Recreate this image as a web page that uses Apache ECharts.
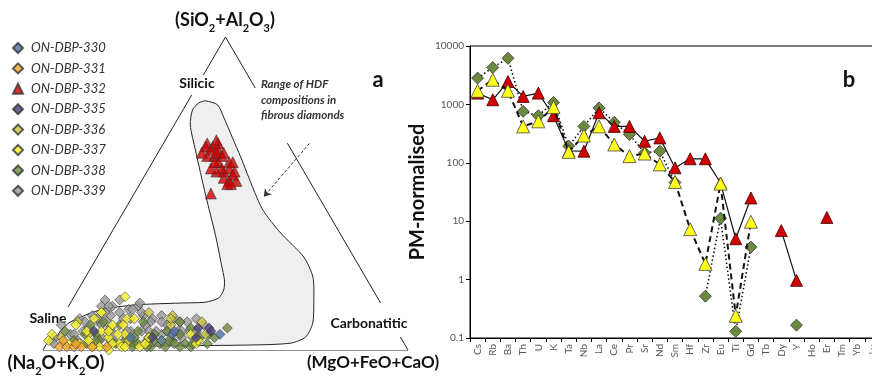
<!DOCTYPE html>
<html><head><meta charset="utf-8">
<script src="https://cdn.jsdelivr.net/npm/echarts@6/dist/echarts.min.js"></script>
<style>html,body{margin:0;padding:0;background:#fff}#c{width:872px;height:381px}</style>
</head><body><div id="c"></div>
<script>
// ---- Panel a: ternary compositions [SiO2+Al2O3, Na2O+K2O, MgO+FeO+CaO] (%) ----
const s330 = [[5,49,46],[5,62,33],[4,74,22],[3,66,31],[6,61,33]];
const s331 = [[1,95,4],[1,93,6],[1,91,8],[1,89,10],[1,86,13],[1,82,17],[3,93,4],[2,90,8]];
const s332 = [[66,22,12],[67,19,14],[66,19,15],[65,21,14],[65,23,12],[64,22,14],[64,20,16],[63,19,18],[62,24,14],[62,22,16],[62,20,18],[60,22,18],[60,19,21],[60,18,22],[60,23,17],[58,22,20],[58,20,22],[57,19,24],[57,22,21],[56,20,24],[55,23,22],[54,22,24],[54,20,26],[53,23,24],[53,22,25],[50,29,21],[63,21,16],[57,24,19],[63,25,12],[58,25,17]];
const s335 = [[7,51,42],[4,56,40],[6,83,11],[4,68,28],[6,51,43],[7,54,39]];
const s336 = [[9,86,5],[12,78,10],[8,61,31],[9,52,39],[7,78,15],[5,53,42],[5,85,10],[12,65,23],[3,75,22],[4,93,3],[11,59,30],[10,60,30]];
const s337 = [[5,95,0],[17,69,14],[8,87,5],[3,86,11],[10,81,9],[1,84,15],[4,80,16],[2,78,20],[5,75,20],[1,73,26],[6,81,13],[10,72,18],[2,71,27],[3,66,31],[2,57,41],[5,57,38],[2,92,6],[8,77,15],[2,89,9],[4,69,27],[12,78,10],[6,85,9],[6,79,15],[5,77,18],[8,74,18],[10,70,20],[3,97,0],[1,86,13],[0,82,18],[2,80,18],[1,78,21],[1,77,22],[3,56,41]];
const s338 = [[3,90,7],[2,87,11],[5,83,12],[3,83,14],[6,79,15],[2,79,19],[4,75,21],[2,74,24],[6,71,23],[3,70,27],[5,67,28],[2,67,31],[6,63,31],[3,63,34],[5,60,35],[2,60,38],[7,56,37],[4,55,41],[2,54,44],[5,52,43],[7,46,47],[8,75,17],[9,79,12],[9,68,23],[9,58,33],[8,83,9],[1,75,24],[1,70,29],[1,59,40],[6,91,3],[4,51,45],[5,86,9],[3,84,13],[3,80,17],[3,76,21],[4,73,23],[3,64,33],[3,68,29],[4,69,27],[2,73,25],[1,71,28],[1,66,33],[1,62,37],[2,63,35],[2,58,40]];
const s339 = [[16,75,9],[14,74,12],[14,77,9],[12,73,15],[13,70,17],[14,67,19],[10,85,5],[11,81,8],[9,80,11],[11,76,13],[10,73,17],[10,71,19],[11,67,22],[10,65,25],[11,62,27],[8,62,30],[10,59,31],[9,56,35],[10,53,37],[8,52,40],[6,57,37],[6,60,34],[6,68,26],[6,73,21],[6,86,8],[3,96,1],[5,90,5],[5,78,17],[4,82,14],[5,65,30],[8,91,1],[16,71,13],[14,75,11],[12,77,11],[13,69,18],[15,66,19],[12,67,21],[10,80,10],[5,89,6],[3,89,8],[9,84,7],[7,84,9],[8,80,12],[9,78,13],[6,74,20],[9,66,25],[9,63,28],[9,58,33],[8,68,24],[6,70,24],[6,66,28],[6,63,31],[6,59,35],[6,55,39],[4,60,36],[4,57,39],[4,95,1],[2,96,2]];
// HDF field outline (ternary %)
const hdfField = [[79.6,15.7,4.7],[78.3,13,8.7],[74.4,13.3,12.3],[67.7,14.2,18.1],[61.7,15,23.3],[51.1,16.7,32.2],[44.7,17.4,37.9],[37.4,16.2,46.4],[29.7,13.7,56.6],[23.3,14.4,62.3],[15,18.3,66.7],[8.6,21.8,69.6],[4.2,25.9,69.9],[2.2,31,66.8],[1.6,42.3,56.1],[1.3,69.9,28.8],[1.3,89.1,9.6],[2.2,93.7,4.1],[4.8,93.5,1.7],[8.9,88.1,3],[12.8,77.9,9.3],[14.4,67.5,18.1],[15,54.9,30.1],[15.3,47.8,36.9],[16.6,43.6,39.8],[19.2,40.9,39.9],[22.4,39.1,38.5],[27.2,37.5,35.3],[36.7,34.4,28.9],[49.5,30.7,19.8],[63.9,26.3,9.8],[71.9,23.7,4.4],[76.7,20.7,2.6],[78.9,17.9,3.2]];
// triangle edge segments (gaps where labels sit)
const edges = [
  [[100,0,0],[87.9,12.1,0]], [[81.5,18.5,0],[13.7,86.3,0]], [[5.8,94.2,0],[0,100,0]],
  [[100,0,0],[83.7,0,16.3]], [[66.1,0,33.9],[15,0,85]], [[4.2,0,95.8],[0,0,100]],
  [[0,100,0],[0,0,100]]
];
const arrowFrom = [66,-6,40], arrowTo = [49,15,36];

// ---- Panel b: PM-normalised ----
const elements = ['Cs','Rb','Ba','Th','U','K','Ta','Nb','La','Ce','Pr','Sr','Nd','Sm','Hf','Zr','Eu','Ti','Gd','Tb','Dy','Y','Ho','Er','Tm','Yb','Lu'];
const pmRed = [1560,1200,2470,1370,1560,640,160,158,720,420,420,234,267,82,117,117,45,5,25,null,6.9,0.97,null,11.6,null,null,null];
const pmYellow = [1710,2640,1710,420,513,900,154,293,420,206,130,144,94,47,7.3,1.86,44,0.24,9.8,null,null,null,null,null,null,null,null];
const pmGreen = [2820,4280,6170,760,640,1080,193,420,870,494,305,148,158,46,null,0.52,11.2,0.13,3.6,null,null,0.166,null,null,null,null,null];
const yTicks = ['0.1','1','10','100','1000','10000'];

function tern(p){ const s=p[0]+p[1]+p[2]; const A=p[0]/s*100, C=p[2]/s*100; return [C + A/2, A]; }

const F = 'Lato, "Open Sans", sans-serif';
const border = {borderColor:'#333', borderWidth:0.7};
function scat(name, data, color, symbol, size, z){
  return {name, type:'scatter', xAxisIndex:0, yAxisIndex:0, data:data.map(tern), symbol, symbolSize:size,
    itemStyle:Object.assign({color}, border), z: z||3, silent:true};
}
const legendNames = ['ON-DBP-330','ON-DBP-331','ON-DBP-332','ON-DBP-335','ON-DBP-336','ON-DBP-337','ON-DBP-338','ON-DBP-339'];

const chart = echarts.init(document.getElementById('c'), null, {renderer:'canvas'});
const sub = {fontSize:11, fontWeight:'bold', fontFamily:F, lineHeight:10, verticalAlign:'bottom', padding:[0,0,-5,0], fill:'#111'};
function lbl(x,y,text,size,extra){
  return {type:'text', x, y, style:Object.assign({text, font:'bold '+size+'px '+F, fill:'#111', align:'center', verticalAlign:'middle'}, extra||{})};
}
const option = {
  animation:false,
  backgroundColor:'#fff',
  grid:[
    {left:43, top:37, width:365, height:313, show:false, outerBoundsMode:'none'},
    {left:470, top:46, width:410, height:292, show:true, borderColor:'#000', borderWidth:1, backgroundColor:'transparent', outerBoundsMode:'none', containLabel:false}
  ],
  xAxis:[
    {type:'value', gridIndex:0, min:0, max:100, show:false},
    {type:'category', gridIndex:1, data:elements, boundaryGap:true,
      axisLine:{lineStyle:{color:'#000', width:1}},
      axisTick:{show:true, interval:0, length:4, lineStyle:{color:'#000'}},
      axisLabel:{interval:0, rotate:90, fontSize:10, color:'#555', fontFamily:F, margin:6}}
  ],
  yAxis:[
    {type:'value', gridIndex:0, min:0, max:100, show:false},
    {type:'log', gridIndex:1, logBase:10, min:0.1, max:10000,
      name:'PM-normalised', nameLocation:'middle', nameGap:42, nameRotate:90,
      nameTextStyle:{fontSize:20, fontWeight:'bold', fontFamily:F, color:'#111'},
      axisLine:{show:true, lineStyle:{color:'#000', width:1}},
      axisTick:{show:true, length:4, lineStyle:{color:'#000'}},
      minorTick:{show:false}, splitLine:{show:false},
      axisLabel:{fontSize:10, color:'#555', fontFamily:F, margin:6,
        formatter:(v)=>{ const e=Math.round(Math.log10(v)); return yTicks[e+1]; }}}
  ],
  legend:{orient:'vertical', left:7, top:36, itemWidth:10, itemHeight:10, itemGap:6.4,
    data:legendNames, selectedMode:false,
    textStyle:{fontStyle:'italic', fontSize:13, color:'#333', fontFamily:F, lineHeight:14, padding:[0,0,0,3]}},
  graphic:[
    {type:'text', x:225, y:20, style:{text:'(SiO{s|2}+Al{s|2}O{s|3})', font:'bold 18px '+F, fill:'#111', align:'center', verticalAlign:'middle', rich:{s:sub}}},
    {type:'text', x:56, y:363, style:{text:'(Na{s|2}O+K{s|2}O)', font:'bold 18px '+F, fill:'#111', align:'center', verticalAlign:'middle', rich:{s:sub}}},
    lbl(373,363,'(MgO+FeO+CaO)',17),
    lbl(197,83,'Silicic',14),
    lbl(48,318,'Saline',14),
    lbl(369,323,'Carbonatitic',14),
    lbl(378,80,'a',22),
    lbl(849,80,'b',22),
    {type:'text', x:261, y:100, style:{text:'Range of HDF\ncompositions in\nfibrous diamonds', font:'italic bold 11.5px '+F, fill:'#333', align:'left', verticalAlign:'middle', lineHeight:15.5}}
  ],
  series:[
    {type:'custom', xAxisIndex:0, yAxisIndex:0, data:[[0,0]], silent:true, z:1,
      renderItem:(params, api)=>({type:'polygon', shape:{points:hdfField.map(p=>api.coord(tern(p))), smooth:0.25},
        style:{fill:'#efefef', stroke:'#222', lineWidth:1}})},
    {type:'lines', coordinateSystem:'cartesian2d', xAxisIndex:0, yAxisIndex:0, silent:true, z:2,
      data:edges.map(seg=>({coords:seg.map(tern)})), lineStyle:{color:'#222', width:1, opacity:1}},
    {type:'lines', coordinateSystem:'cartesian2d', xAxisIndex:0, yAxisIndex:0, silent:true, z:2,
      symbol:['none','arrow'], symbolSize:7,
      data:[{coords:[tern(arrowFrom), tern(arrowTo)]}], lineStyle:{color:'#333', width:1, type:[3,2], opacity:1}},
    scat('ON-DBP-339', s339, '#9a9a9a', 'diamond', 10),
    scat('ON-DBP-338', s338, '#6b8a3d', 'diamond', 10),
    scat('ON-DBP-336', s336, '#c9c43e', 'diamond', 10),
    scat('ON-DBP-337', s337, '#f7f22c', 'diamond', 10),
    scat('ON-DBP-331', s331, '#f0a428', 'diamond', 10),
    scat('ON-DBP-330', s330, '#4f6fa8', 'diamond', 10),
    scat('ON-DBP-335', s335, '#4e3f7c', 'diamond', 10),
    scat('ON-DBP-332', s332, '#d00000', 'triangle', 11),
    {name:'PM-338', type:'line', xAxisIndex:1, yAxisIndex:1, data:pmGreen, connectNulls:false,
      symbol:'diamond', symbolSize:12, itemStyle:{color:'#6b8a3d', borderColor:'#333', borderWidth:0.8},
      lineStyle:{color:'#111', width:1.6, type:[1.5,2.5]}, z:3, silent:true},
    {name:'PM-332', type:'line', xAxisIndex:1, yAxisIndex:1, data:pmRed, connectNulls:false,
      symbol:'triangle', symbolSize:12, itemStyle:{color:'#d00000', borderColor:'#400', borderWidth:0.8},
      lineStyle:{color:'#111', width:1.2, type:'solid'}, z:4, silent:true},
    {name:'PM-337', type:'line', xAxisIndex:1, yAxisIndex:1, data:pmYellow, connectNulls:false,
      symbol:'triangle', symbolSize:13, itemStyle:{color:'#ffff1a', borderColor:'#444', borderWidth:0.8},
      lineStyle:{color:'#111', width:2, type:[6,4]}, z:5, silent:true}
  ]
};
chart.setOption(option);
</script></body></html>
